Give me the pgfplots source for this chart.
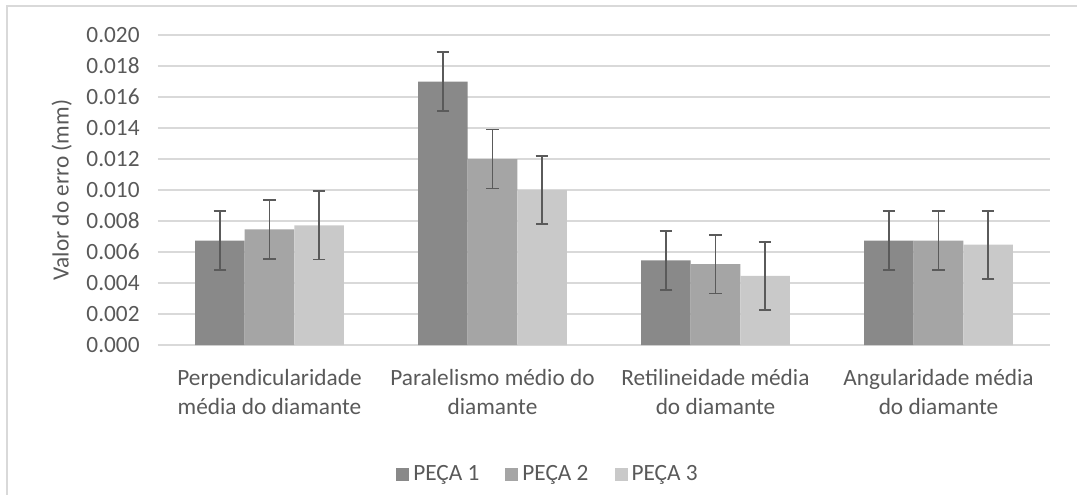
\documentclass[border=0pt]{standalone}
\usepackage{fontspec}
\setmainfont{Carlito}
\usepackage{pgfplots}
\pgfplotsset{compat=1.18}
\definecolor{sA}{HTML}{898989}
\definecolor{sB}{HTML}{A5A5A5}
\definecolor{sC}{HTML}{C9C9C9}
\definecolor{txt}{HTML}{595959}
\definecolor{grd}{HTML}{D9D9D9}
\definecolor{err}{HTML}{5A5A5A}
\begin{document}
\begin{tikzpicture}[font=\fontsize{11.65}{14.25}\selectfont]
\useasboundingbox (0,0) rectangle (538.5pt,247pt);
\draw[grd, line width=0.8pt] (3.5pt,-2pt) -- (3.5pt,244pt) -- (545pt,244pt);
\begin{axis}[
  at={(79pt,74.5pt)}, anchor=south west,
  scale only axis, width=446pt, height=155pt,
  ybar=0pt, bar width=0.222,
  xmin=-0.5, xmax=3.5, ymin=0, ymax=0.020,
  xtick={0,1,2,3},
  xticklabels={{Perpendicularidade\\média do diamante},{Paralelismo médio do\\diamante},{Retilineidade média\\do diamante},{Angularidade média\\do diamante}},
  xticklabel style={align=center, text=txt, inner sep=0pt, anchor=north, yshift=-12pt},
  ytick={0,0.002,...,0.0201},
  scaled y ticks=false,
  yticklabel style={text=txt, inner sep=0pt, anchor=east, xshift=-9pt,
    /pgf/number format/.cd, fixed, fixed zerofill, precision=3, assume math mode=true},
  major tick length=0pt,
  axis line style={draw=none},
  ymajorgrids, grid style={grd, line width=0.8pt},
  ylabel={Valor do erro (mm)},
  ylabel style={text=txt, at={(axis description cs:-0.108,0.5)}, anchor=center},
  legend columns=3,
  legend style={draw=none, fill=none, text=txt, at={(axis description cs:0.4383,-0.418)}, anchor=center,
    /tikz/every even column/.append style={column sep=11pt},
    inner sep=0pt, row sep=0pt},
  legend image code/.code={\fill[#1,draw=none] (0pt,-3.25pt) rectangle (6.5pt,3.25pt);},
  legend cell align=left,
  error bars/y dir=both, error bars/y explicit,
  error bars/error bar style={line width=0.9pt, err},
  error bars/error mark options={rotate=90, mark size=3.2pt, line width=0.9pt, err},
]
\addplot[fill=sA, draw=none] coordinates {(0,0.00673) +- (0,0.0019) (1,0.0170) +- (0,0.0019) (2,0.00546) +- (0,0.0019) (3,0.00673) +- (0,0.0019)};
\addplot[fill=sB, draw=none] coordinates {(0,0.00746) +- (0,0.0019) (1,0.0120) +- (0,0.0019) (2,0.00522) +- (0,0.0019) (3,0.00673) +- (0,0.0019)};
\addplot[fill=sC, draw=none] coordinates {(0,0.00772) +- (0,0.0022) (1,0.0100) +- (0,0.0022) (2,0.00446) +- (0,0.0022) (3,0.00647) +- (0,0.0022)};
\legend{PEÇA 1, PEÇA 2, PEÇA 3}
\end{axis}
\end{tikzpicture}
\end{document}
